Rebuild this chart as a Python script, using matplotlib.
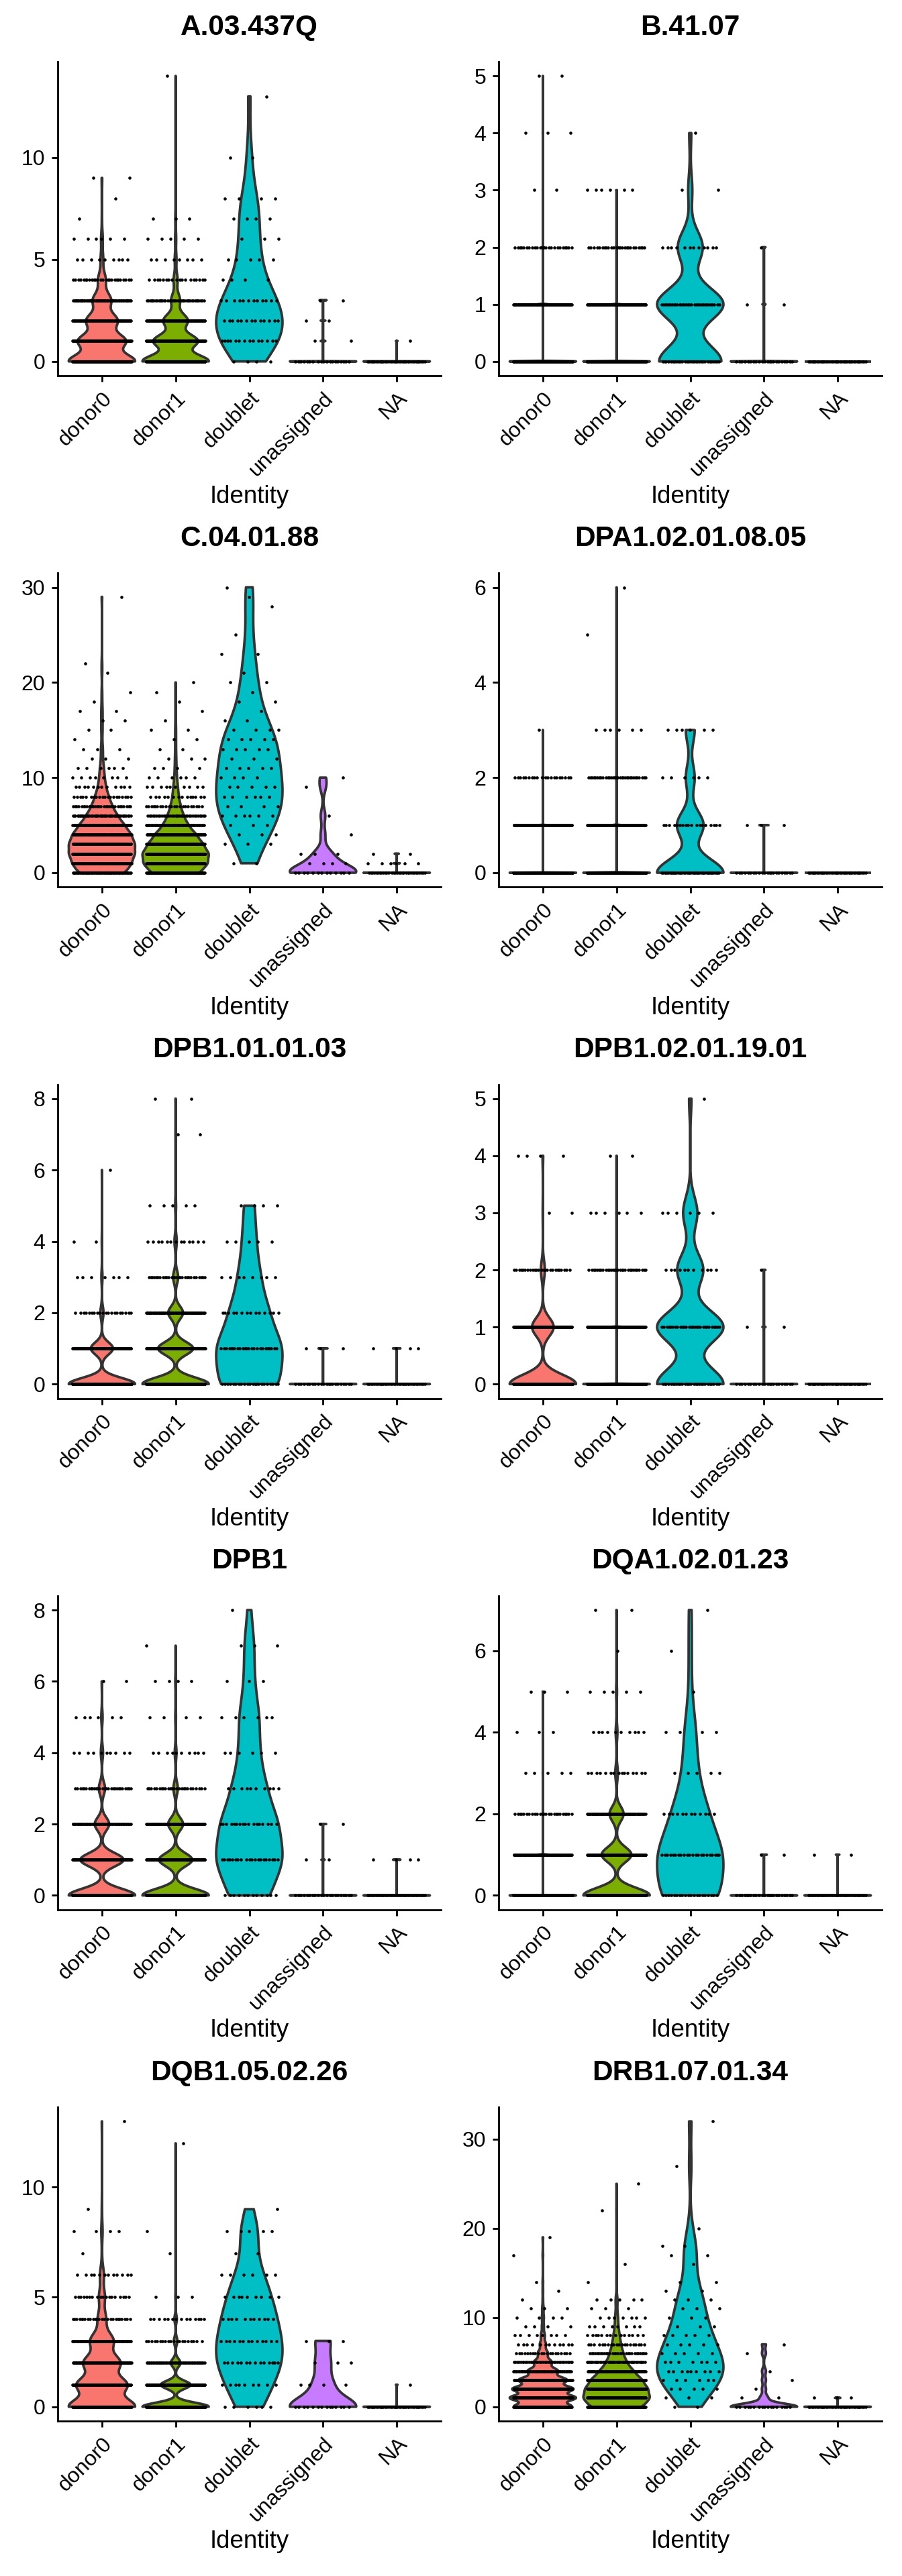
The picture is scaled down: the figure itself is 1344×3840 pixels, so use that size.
import numpy as np
import matplotlib
matplotlib.use("Agg")
import matplotlib.pyplot as plt
from matplotlib.transforms import ScaledTranslation

plt.rcParams['font.family'] = ['Liberation Sans', 'DejaVu Sans']

# ---------------- data ----------------
identities = ["donor0", "donor1", "doublet", "unassigned", "NA"]
fill_colors = ["#F8766D", "#7CAE00", "#00BFC4", "#C77CFF", "#7F7F7F"]
features = ["A.03.437Q", "B.41.07", "C.04.01.88", "DPA1.02.01.08.05",
            "DPB1.01.01.03", "DPB1.02.01.19.01", "DPB1", "DQA1.02.01.23",
            "DQB1.05.02.26", "DRB1.07.01.34"]

# per feature: for each identity, {expression value: number of cells}
A_03_437Q = [
    {0: 225, 1: 160, 2: 105, 3: 62, 4: 26, 5: 9, 6: 6, 7: 1, 8: 1, 9: 2},
    {0: 300, 1: 200, 2: 110, 3: 40, 4: 18, 5: 8, 6: 5, 7: 3, 14: 1},
    {0: 4, 1: 14, 2: 13, 3: 12, 4: 4, 5: 5, 6: 3, 7: 4, 8: 4, 10: 2, 13: 1},
    {0: 19, 1: 2, 2: 2, 3: 2},
    {0: 39, 1: 1},
]
B_41_07 = [
    {0: 460, 1: 110, 2: 24, 3: 2, 4: 3, 5: 2},
    {0: 540, 1: 130, 2: 25, 3: 6},
    {0: 30, 1: 32, 2: 12, 3: 2, 4: 1},
    {0: 22, 1: 2, 2: 1},
    {0: 40},
]
C_04_01_88 = [
    {0: 70, 1: 85, 2: 95, 3: 95, 4: 85, 5: 65, 6: 45, 7: 30, 8: 20, 9: 12, 10: 8,
     11: 6, 12: 3, 13: 3, 14: 1, 15: 2, 16: 2, 17: 2, 18: 1, 19: 1, 21: 1, 22: 1, 29: 1},
    {0: 110, 1: 140, 2: 145, 3: 120, 4: 90, 5: 55, 6: 35, 7: 22, 8: 14, 9: 10, 10: 6,
     11: 4, 12: 3, 13: 2, 14: 2, 15: 2, 16: 1, 17: 1, 18: 1, 19: 1, 20: 1},
    {1: 2, 3: 3, 4: 3, 5: 3, 6: 6, 7: 4, 8: 6, 9: 5, 10: 4, 11: 5, 12: 3, 13: 5,
     14: 5, 15: 4, 16: 2, 17: 1, 18: 2, 19: 1, 20: 2, 21: 1, 23: 2, 25: 1, 28: 1,
     29: 1, 30: 1},
    {0: 13, 1: 4, 2: 3, 4: 1, 6: 1, 9: 1, 10: 1},
    {0: 32, 1: 6, 2: 2},
]
DPA1_02_01_08_05 = [
    {0: 470, 1: 110, 2: 20, 3: 1},
    {0: 540, 1: 120, 2: 32, 3: 6, 5: 1, 6: 1},
    {0: 45, 1: 18, 2: 6, 3: 6},
    {0: 22, 1: 3},
    {0: 40},
]
DPB1_01_01_03 = [
    {0: 420, 1: 140, 2: 20, 3: 7, 4: 2, 6: 1},
    {0: 370, 1: 195, 2: 82, 3: 28, 4: 13, 5: 5, 7: 2, 8: 2},
    {0: 22, 1: 24, 2: 14, 3: 8, 4: 5, 5: 4},
    {0: 22, 1: 3},
    {0: 36, 1: 4},
]
DPB1_02_01_19_01 = [
    {0: 415, 1: 135, 2: 25, 3: 2, 4: 4},
    {0: 530, 1: 130, 2: 30, 3: 6, 4: 2},
    {0: 28, 1: 28, 2: 11, 3: 6, 5: 1},
    {0: 22, 1: 2, 2: 1},
    {0: 40},
]
DPB1 = [
    {0: 300, 1: 195, 2: 65, 3: 28, 4: 10, 5: 6, 6: 2},
    {0: 380, 1: 190, 2: 85, 3: 25, 4: 10, 5: 4, 6: 4, 7: 1},
    {0: 12, 1: 20, 2: 17, 3: 10, 4: 6, 5: 6, 6: 3, 7: 3, 8: 1},
    {0: 21, 1: 2, 2: 2},
    {0: 36, 1: 4},
]
DQA1_02_01_23 = [
    {0: 470, 1: 100, 2: 25, 3: 5, 4: 3, 5: 3},
    {0: 380, 1: 170, 2: 80, 3: 15, 4: 10, 5: 5, 6: 1, 7: 2},
    {0: 20, 1: 22, 2: 12, 3: 5, 4: 4, 5: 1, 6: 1, 7: 1},
    {0: 23, 1: 2},
    {0: 38, 1: 2},
]
DQB1_05_02_26 = [
    {0: 200, 1: 150, 2: 110, 3: 70, 4: 25, 5: 18, 6: 12, 7: 1, 8: 4, 9: 1, 13: 1},
    {0: 380, 1: 170, 2: 55, 3: 20, 4: 14, 5: 3, 7: 1, 8: 1, 12: 1},
    {0: 6, 1: 9, 2: 14, 3: 13, 4: 11, 5: 9, 6: 6, 7: 2, 8: 5, 9: 1},
    {0: 14, 1: 4, 2: 3, 3: 3},
    {0: 39, 1: 1},
]
DRB1_07_01_34 = [
    {0: 115, 1: 130, 2: 120, 3: 95, 4: 60, 5: 35, 6: 20, 7: 12, 8: 8, 9: 4, 10: 4,
     11: 3, 12: 1, 13: 1, 14: 1, 17: 1, 19: 1},
    {0: 120, 1: 150, 2: 140, 3: 115, 4: 75, 5: 45, 6: 30, 7: 20, 8: 14, 9: 8, 10: 7,
     11: 3, 12: 5, 14: 1, 16: 1, 22: 1, 25: 1},
    {0: 2, 1: 3, 2: 5, 3: 6, 4: 9, 5: 7, 6: 5, 7: 5, 8: 5, 9: 3, 10: 3, 11: 3, 12: 3,
     13: 2, 14: 2, 16: 1, 17: 2, 18: 2, 20: 1, 27: 1, 32: 1},
    {0: 17, 1: 2, 2: 1, 3: 1, 4: 1, 6: 1, 7: 1},
    {0: 37, 1: 3},
]
panel_data = [A_03_437Q, B_41_07, C_04_01_88, DPA1_02_01_08_05, DPB1_01_01_03,
              DPB1_02_01_19_01, DPB1, DQA1_02_01_23, DQB1_05_02_26, DRB1_07_01_34]
y_ticks = [[0, 5, 10], [0, 1, 2, 3, 4, 5], [0, 10, 20, 30], [0, 2, 4, 6],
           [0, 2, 4, 6, 8], [0, 1, 2, 3, 4, 5], [0, 2, 4, 6, 8], [0, 2, 4, 6],
           [0, 5, 10], [0, 10, 20, 30]]


# ---------------- helpers ----------------
def violin_profile(vals, cnts, n_grid=512):
    """Trimmed density (ggplot geom_violin, scale='width') of integer data."""
    x = np.repeat(vals, cnts).astype(float)
    lo, hi = x.min(), x.max()
    if hi == lo:
        return np.array([lo, lo]), np.array([1.0, 1.0])
    grid = np.linspace(lo, hi, n_grid)
    q1, q3 = np.percentile(x, [25, 75])
    iqr = q3 - q1
    if iqr == 0:
        # bandwidth collapses (tiny noise only) -> linear binning on the grid
        step = (hi - lo) / (n_grid - 1)
        d = np.zeros(n_grid)
        for v, c in zip(vals, cnts):
            pos = (v - lo) / step
            i = int(np.floor(pos + 1e-9))
            frac = pos - i
            if i >= n_grid - 1:
                d[n_grid - 1] += c
            else:
                d[i] += c * (1 - frac)
                d[i + 1] += c * frac
    else:
        sd = x.std(ddof=1)
        bw = 0.9 * min(sd, iqr / 1.34) * len(x) ** -0.2
        d = np.zeros(n_grid)
        for v, c in zip(vals, cnts):
            d += c * np.exp(-0.5 * ((grid - v) / bw) ** 2)
    return grid, d / d.max()


def jitter_offsets(n, width=0.4):
    k = np.arange(1, n + 1)
    return ((k * 0.6180339887498949) % 1.0 - 0.5) * 2 * width


# ---------------- figure ----------------
W, H = 1344, 3840
fig = plt.figure(figsize=(W / 100, H / 100), dpi=100)

col_left = [86, 743]
ax_w, ax_h = 571, 468
row_top0, row_step = 92, 762.25

for idx, feat in enumerate(features):
    r, c = divmod(idx, 2)
    top = row_top0 + row_step * r
    ax = fig.add_axes([col_left[c] / W, 1 - (top + ax_h) / H, ax_w / W, ax_h / H])
    data = panel_data[idx]
    ymax = max(max(h) for h in data)
    ymin = min(min(h) for h in data)

    for i, (hist, colr) in enumerate(zip(data, fill_colors)):
        vals = np.array(sorted(hist))
        cnts = np.array([hist[v] for v in vals])
        ys, w = violin_profile(vals, cnts)
        pos = i + 1
        px = np.concatenate([pos - 0.45 * w, (pos + 0.45 * w)[::-1]])
        py = np.concatenate([ys, ys[::-1]])
        ax.fill(px, py, facecolor=colr, edgecolor="#333333", linewidth=2.7,
                joinstyle="round", zorder=2)

    for i, hist in enumerate(data):
        vals = np.array(sorted(hist))
        cnts = np.array([hist[v] for v in vals])
        yy = np.repeat(vals, cnts)
        xx = (i + 1) + jitter_offsets(len(yy))
        ax.scatter(xx, yy, s=11, c="black", linewidths=0, zorder=3)

    rng = ymax - ymin
    ax.set_ylim(ymin - 0.05 * rng, ymax + 0.05 * rng)
    ax.set_xlim(0.4, 5.6)
    ax.set_yticks(y_ticks[idx])
    ax.set_xticks(range(1, 6))
    ax.set_xticklabels(identities, rotation=45, ha="right", va="top",
                       rotation_mode="anchor")
    shift = ScaledTranslation(4 / 100, 0, fig.dpi_scale_trans)
    for lab in ax.get_xticklabels():
        lab.set_transform(lab.get_transform() + shift)
    for s in ["top", "right"]:
        ax.spines[s].set_visible(False)
    for s in ["left", "bottom"]:
        ax.spines[s].set_linewidth(2.0)
        ax.spines[s].set_color("black")
    ax.tick_params(axis="both", direction="out", length=6.5, width=2.0,
                   color="black", labelsize=23, labelcolor="black", pad=7)
    ax.set_title(feat, fontsize=30.5, fontweight="bold", y=1 + 43 / ax_h,
                 verticalalignment="center")
    ax.set_xlabel("Identity", fontsize=26.5)
    ax.xaxis.set_label_coords(0.5, -180 / ax_h)
    ax.xaxis.label.set_verticalalignment("center")

fig.savefig("out.png", dpi=100, facecolor="white")
